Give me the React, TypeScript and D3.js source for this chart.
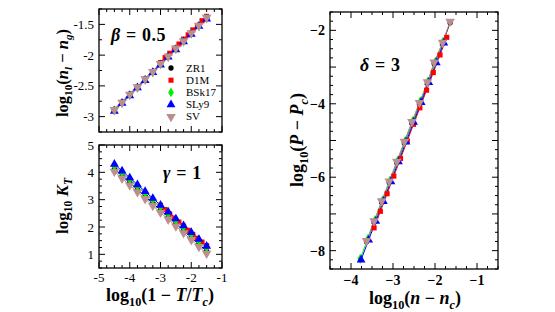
import React from "react";
import * as d3 from "d3";

// series names and colours
const seriesNames = ["ZR1", "D1M", "BSk17", "SLy9", "SV"];
const seriesColors = ["#000000", "#ff0000", "#00ee00", "#0000ff", "#bc8f8f"];
const seriesSymbols = [d3.symbolCircle, d3.symbolSquare, d3.symbolDiamond, d3.symbolTriangle, d3.symbolTriangle];

// beta panel: log10(1 - T/Tc) vs log10(nl - ng)
const betaX = [-4.5, -4.25, -4, -3.75, -3.5, -3.25, -3, -2.75, -2.5, -2.25, -2, -1.75, -1.5];
const betaD1MX = [-3.0, -2.85, -2.7, -2.55, -2.4, -2.25, -2.1, -1.95, -1.8, -1.65, -1.5];
const betaZR1 = [-2.88, -2.76, -2.63, -2.51, -2.38, -2.26, -2.13, -2.01, -1.88, -1.76, -1.63, -1.51, -1.38];
const betaD1M = [-2.12, -2.04, -1.97, -1.89, -1.82, -1.74, -1.67, -1.59, -1.52, -1.44, -1.37];
const betaBSk17 = [-2.9, -2.78, -2.65, -2.53, -2.4, -2.28, -2.15, -2.03, -1.9, -1.78, -1.65, -1.53, -1.4];
const betaSLy9 = [-2.91, -2.78, -2.66, -2.53, -2.41, -2.28, -2.16, -2.03, -1.91, -1.78, -1.66, -1.53, -1.41];
const betaSV = [-2.89, -2.77, -2.64, -2.52, -2.39, -2.27, -2.14, -2.02, -1.89, -1.77, -1.64, -1.52, -1.39];

// gamma panel: log10 K_T
const gammaX = [-4.5, -4.25, -4, -3.75, -3.5, -3.25, -3, -2.75, -2.5, -2.25, -2, -1.75, -1.5];
const gammaD1MX = [-3.0, -2.85, -2.7, -2.55, -2.4, -2.25, -2.1, -1.95, -1.8, -1.65, -1.5];
const gammaZR1 = [4.12, 3.87, 3.62, 3.37, 3.12, 2.87, 2.62, 2.37, 2.12, 1.87, 1.62, 1.37, 1.12];
const gammaD1M = [2.8, 2.64, 2.48, 2.33, 2.18, 2.03, 1.88, 1.73, 1.59, 1.45, 1.32];
const gammaBSk17 = [4.23, 3.98, 3.73, 3.48, 3.23, 2.98, 2.73, 2.48, 2.23, 1.98, 1.73, 1.48, 1.23];
const gammaSLy9 = [4.3, 4.05, 3.8, 3.55, 3.3, 3.05, 2.8, 2.55, 2.3, 2.05, 1.8, 1.55, 1.3];
const gammaSV = [4.03, 3.78, 3.53, 3.28, 3.03, 2.78, 2.53, 2.28, 2.03, 1.78, 1.53, 1.28, 1.03];

// delta panel: log10(n - nc) vs log10(P - Pc)
const deltaZR1X = [-3.63, -3.45, -3.27, -3.09, -2.91, -2.73, -2.55, -2.37, -2.18, -2.02, -1.82, -1.64];
const deltaZR1 = [-7.76, -7.22, -6.68, -6.14, -5.6, -5.06, -4.52, -4.0, -3.44, -2.9, -2.36, -1.79];
const deltaD1MX = [-3.45, -3.3, -3.14, -2.98, -2.82, -2.66, -2.51, -2.36, -2.2, -2.04, -1.88, -1.72];
const deltaD1M = [-7.38, -6.93, -6.45, -5.97, -5.49, -5.01, -4.56, -4.11, -3.63, -3.15, -2.67, -2.19];
const deltaBSk17X = [-3.78, -3.6, -3.43, -3.25, -3.07, -2.89, -2.71, -2.53, -2.35, -2.17, -1.99, -1.81];
const deltaBSk17 = [-8.22, -7.68, -7.17, -6.63, -6.09, -5.55, -5.01, -4.47, -3.93, -3.39, -2.85, -2.31];
const deltaSLy9X = [-3.76, -3.58, -3.41, -3.23, -3.05, -2.87, -2.69, -2.51, -2.33, -2.15, -1.97, -1.79];
const deltaSLy9 = [-8.25, -7.71, -7.2, -6.66, -6.12, -5.58, -5.04, -4.5, -3.96, -3.42, -2.88, -2.34];
const deltaSVX = [-3.63, -3.45, -3.27, -3.09, -2.91, -2.73, -2.55, -2.37, -2.18, -2.02, -1.82, -1.64];
const deltaSV = [-7.73, -7.19, -6.65, -6.11, -5.57, -5.03, -4.49, -3.97, -3.41, -2.87, -2.33, -1.76];

const FONT = "Liberation Serif, Times New Roman, Times, serif";

type Series = { xs: number[]; ys: number[] };
type Part = { t: string; i?: boolean; sub?: boolean };

// text with italic parts and subscripts
const MathText = ({ parts, size, ...rest }: any) => {
  let inSub = false;
  return (
    <text fontFamily={FONT} fontSize={size} fontWeight="bold" {...rest}>
      {parts.map((p: Part, k: number) => {
        let dy = 0;
        if (p.sub && !inSub) dy = size * 0.25;
        if (!p.sub && inSub) dy = -size * 0.25;
        inSub = !!p.sub;
        return (
          <tspan key={k} dy={dy} fontStyle={p.i ? "italic" : "normal"} fontSize={p.sub ? size * 0.68 : size}>
            {p.t}
          </tspan>
        );
      })}
    </text>
  );
};

const Marker = ({ k, x, y }: { k: number; x: number; y: number }) => {
  const sizes = [22, 26, 28, 34, 40];
  const path = d3.symbol().type(seriesSymbols[k]).size(sizes[k])() as string;
  const rot = k === 4 ? " rotate(180)" : "";
  return <path d={path} transform={`translate(${x},${y})${rot}`} fill={seriesColors[k]} />;
};

const Panel = (props: any) => {
  const { x0, x1, y0, y1, xDom, yDom, series, xMajor, yMajor, yLabelStep, showXLabels, bold, fmtY, fmtX } = props;
  const x = d3.scaleLinear().domain(xDom).range([x0, x1]);
  const y = d3.scaleLinear().domain(yDom).range([y1, y0]);
  const minor = 0.25;
  const near = (v: number, s: number) => Math.abs(v / s - Math.round(v / s)) < 1e-6;
  const xt = d3.range(Math.ceil(xDom[0] / minor) * minor, xDom[1] + 1e-6, minor);
  const yt = d3.range(Math.ceil(yDom[0] / minor) * minor, yDom[1] + 1e-6, minor);
  const line = d3.line<[number, number]>().x((d) => x(d[0])).y((d) => y(d[1]));
  const tf = bold ? "bold" : "normal";
  const ts = bold ? 14 : 13;
  return (
    <g>
      {series.map((s: Series, k: number) => (
        <path key={"l" + k} d={line(s.xs.map((v, i) => [v, s.ys[i]])) as string} fill="none"
          stroke={seriesColors[k]} strokeWidth={1} />
      ))}
      {series.map((s: Series, k: number) =>
        s.xs.map((v, i) => <Marker key={k + "-" + i} k={k} x={x(v)} y={y(s.ys[i])} />)
      )}
      <rect x={x0} y={y0} width={x1 - x0} height={y1 - y0} fill="none" stroke="#000" strokeWidth={1.3} />
      {xt.map((v, i) => {
        const len = near(v, xMajor) ? 6 : 3;
        return (
          <g key={"xt" + i}>
            <line x1={x(v)} x2={x(v)} y1={y1} y2={y1 - len} stroke="#000" />
            <line x1={x(v)} x2={x(v)} y1={y0} y2={y0 + len} stroke="#000" />
          </g>
        );
      })}
      {yt.map((v, i) => {
        const len = near(v, yMajor) ? 6 : 3;
        return (
          <g key={"yt" + i}>
            <line x1={x0} x2={x0 + len} y1={y(v)} y2={y(v)} stroke="#000" />
            <line x1={x1} x2={x1 - len} y1={y(v)} y2={y(v)} stroke="#000" />
          </g>
        );
      })}
      {yt.filter((v) => near(v, yLabelStep)).map((v, i) => (
        <text key={"yl" + i} x={x0 - 5} y={y(v)} dy="0.35em" textAnchor="end" fontFamily={FONT}
          fontSize={ts} fontWeight={tf}>{fmtY(v)}</text>
      ))}
      {showXLabels && xt.filter((v) => near(v, xMajor)).map((v, i) => (
        <text key={"xl" + i} x={x(v)} y={y1 + (bold ? 16 : 14)} textAnchor="middle" fontFamily={FONT}
          fontSize={ts} fontWeight={tf}>{fmtX(v)}</text>
      ))}
    </g>
  );
};

const App = () => {
  const betaSeries = [
    { xs: betaX, ys: betaZR1 }, { xs: betaD1MX, ys: betaD1M }, { xs: betaX, ys: betaBSk17 },
    { xs: betaX, ys: betaSLy9 }, { xs: betaX, ys: betaSV },
  ];
  const gammaSeries = [
    { xs: gammaX, ys: gammaZR1 }, { xs: gammaD1MX, ys: gammaD1M }, { xs: gammaX, ys: gammaBSk17 },
    { xs: gammaX, ys: gammaSLy9 }, { xs: gammaX, ys: gammaSV },
  ];
  const deltaSeries = [
    { xs: deltaZR1X, ys: deltaZR1 }, { xs: deltaD1MX, ys: deltaD1M }, { xs: deltaBSk17X, ys: deltaBSk17 },
    { xs: deltaSLy9X, ys: deltaSLy9 }, { xs: deltaSVX, ys: deltaSV },
  ];
  const hy = (v: number) => (v < 0 ? "-" + String(-v) : String(v));
  const mn = (v: number) => (v < 0 ? "\u2212" + String(-v) : String(v));
  return (
    <div style={{ position: "absolute", left: 0, top: 0 }}>
      <svg width={555} height={312} style={{ display: "block", background: "#fff" }}>
        <Panel x0={99} x1={222} y0={9} y1={132} xDom={[-5, -1]} yDom={[-3.25, -1.25]} series={betaSeries}
          xMajor={1} yMajor={0.5} yLabelStep={0.5} showXLabels={false} fmtY={hy} fmtX={hy} />
        <Panel x0={99} x1={222} y0={145} y1={268} xDom={[-5, -1]} yDom={[0.5, 5]} series={gammaSeries}
          xMajor={1} yMajor={1} yLabelStep={1} showXLabels={true} fmtY={hy} fmtX={hy} />
        <Panel x0={330} x1={498} y0={12} y1={269} xDom={[-4.5, -0.5]} yDom={[-8.5, -1.5]} series={deltaSeries}
          xMajor={1} yMajor={1} yLabelStep={2} showXLabels={true} bold={true} fmtY={mn} fmtX={mn} />

        {/* legend */}
        {seriesNames.map((n, k) => (
          <g key={n}>
            <Marker k={k} x={171} y={68 + k * 12.2} />
            <text x={186} y={68 + k * 12.2} dy="0.33em" fontFamily={FONT} fontSize={11}>{n}</text>
          </g>
        ))}

        {/* annotations */}
        <MathText x={111} y={41} size={18} letterSpacing={0.6} parts={[{ t: "β", i: true }, { t: " = 0.5" }]} />
        <MathText x={163} y={179} size={18} letterSpacing={0.6} parts={[{ t: "γ", i: true }, { t: " = 1" }]} />
        <MathText x={360} y={71} size={18} letterSpacing={0.6} parts={[{ t: "δ", i: true }, { t: " = 3" }]} />

        {/* axis titles */}
        <MathText transform="translate(68,73) rotate(-90)" textAnchor="middle" size={16.5}
          parts={[{ t: "log" }, { t: "10", sub: true }, { t: "(" }, { t: "n", i: true }, { t: "l", i: true, sub: true },
            { t: " \u2212 " }, { t: "n", i: true }, { t: "g", i: true, sub: true }, { t: ")" }]} />
        <MathText transform="translate(68,206) rotate(-90)" textAnchor="middle" size={17}
          parts={[{ t: "log" }, { t: "10", sub: true }, { t: " " }, { t: "K", i: true }, { t: "T", i: true, sub: true }]} />
        <MathText x={160} y={301} textAnchor="middle" size={18}
          parts={[{ t: "log" }, { t: "10", sub: true }, { t: "(1 \u2212 " }, { t: "T", i: true }, { t: "/" },
            { t: "T", i: true }, { t: "c", i: true, sub: true }, { t: ")" }]} />
        <MathText transform="translate(303,140) rotate(-90)" textAnchor="middle" size={18}
          parts={[{ t: "log" }, { t: "10", sub: true }, { t: "(" }, { t: "P", i: true }, { t: " \u2212 " },
            { t: "P", i: true }, { t: "c", i: true, sub: true }, { t: ")" }]} />
        <MathText x={415} y={304} textAnchor="middle" size={18}
          parts={[{ t: "log" }, { t: "10", sub: true }, { t: "(" }, { t: "n", i: true }, { t: " \u2212 " },
            { t: "n", i: true }, { t: "c", i: true, sub: true }, { t: ")" }]} />
      </svg>
    </div>
  );
};

export default App;
